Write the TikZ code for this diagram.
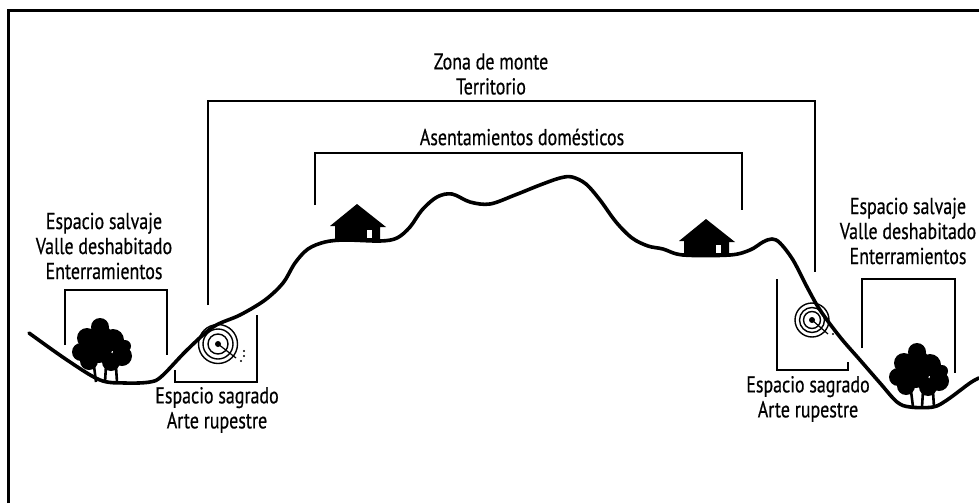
\documentclass[tikz,border=0pt]{standalone}
\usepackage{fontspec}
\setmainfont{PT Sans}[FakeStretch=0.78, FakeBold=0.5]
\begin{document}
\begin{tikzpicture}[x=1pt,y=-1pt,
  lbl/.style={font=\fontsize{23}{25}\selectfont, align=center, inner sep=0pt},
  brk/.style={line width=1.4pt, line join=miter},
  ground/.style={line width=3.6pt, line cap=round, line join=round},
  ring/.style={line width=1.4pt},
  treeshape/.pic={
    \fill (-14,-44) circle (10) (-1,-55) circle (9) (0,-48) circle (10) (12,-42) circle (11)
          (-20,-30) circle (9) (-2,-32) circle (13) (21,-26) circle (10)
          (-12,-21) circle (9) (10,-20) circle (9) (24,-36) circle (6);
    \draw[line width=2.6pt] (-7,-16) -- (-5,0) (5,-16) -- (4,0) (15,-15) -- (16,0);
  },
  house/.pic={
    \fill (-27,-14) -- (0,-36) -- (29,-13) -- (23,-13) -- (23,0) -- (-22,0) -- (-22,-14) -- cycle;
    \fill[white] (10,-10) rectangle (15,-2);
  }]
\useasboundingbox (0,0) rectangle (979,503);
\fill[white] (0,0) rectangle (979,503);

% frame
\draw[line width=3pt] (8,503) -- (8,11) -- (979,11);

% ground profile
\draw[ground] plot[smooth, tension=0.55] coordinates {
  (29,333) (67,360) (100,380) (125,383) (150,382) (162,376) (187,350)
  (213,327) (240,315) (265,300) (283,283) (295,263) (308,249) (325,242)
  (345,240) (380,241) (397,238) (410,227) (422,210) (437,197) (452,194)
  (470,202) (490,204) (515,195) (540,185) (560,178) (572,177) (586,184)
  (600,200) (616,222) (632,238) (648,246) (663,249) (683,255) (730,255)
  (750,250) (763,242) (772,239) (780,243) (793,260) (807,287) (820,310)
  (840,337) (860,360) (880,383) (897,402) (910,407) (933,407) (947,400)
  (970,383) (979,378)};

% houses and trees
\pic at (357,240) {house};
\pic at (706,255) {house};
\pic at (101,382) {treeshape};
\pic at (918,407) {treeshape};

% rock art targets
\fill (218,344) circle (3);
\draw[ring] (218,344) circle (10) circle (15) circle (19.5);
\draw[line width=1.2pt] (218,344) -- (236,358);
\fill (244,351) circle (1.2) (244,356) circle (1.2) (241,361) circle (1.2);
\fill (812,320) circle (3);
\draw[ring] (812,320) circle (8.5) circle (12.5) circle (17);
\draw[line width=1.2pt] (812,320) -- (828,334);
\fill (835,330) circle (1.1) (833,334) circle (1.1);

% brackets
\draw[brk] (208,305) -- (208,101) -- (815,101) -- (815,272);
\draw[brk] (315,205) -- (315,153) -- (742,153) -- (742,210);
\draw[brk] (65,345) -- (65,290) -- (167,290) -- (167,355);
\draw[brk] (175,370) -- (175,382) -- (257,382) -- (257,315);
\draw[brk] (862,348) -- (862,279) -- (955,279) -- (955,373);
\draw[brk] (777,279) -- (777,370) -- (848,370) -- (848,362);

% labels
\node[lbl] (zona) at (491,74) {Zona de monte\\Territorio};
\node[lbl] (asent) at (522,137) {Asentamientos domésticos};
\node[lbl] (salvL) at (104,246) {Espacio salvaje\\Valle deshabitado\\Enterramientos};
\node[lbl] (salvR) at (908,231) {Espacio salvaje\\Valle deshabitado\\Enterramientos};
\node[lbl] (sagrL) at (217,410) {Espacio sagrado\\Arte rupestre};
\node[lbl] (sagrR) at (808,399) {Espacio sagrado\\Arte rupestre};
\end{tikzpicture}
\end{document}
